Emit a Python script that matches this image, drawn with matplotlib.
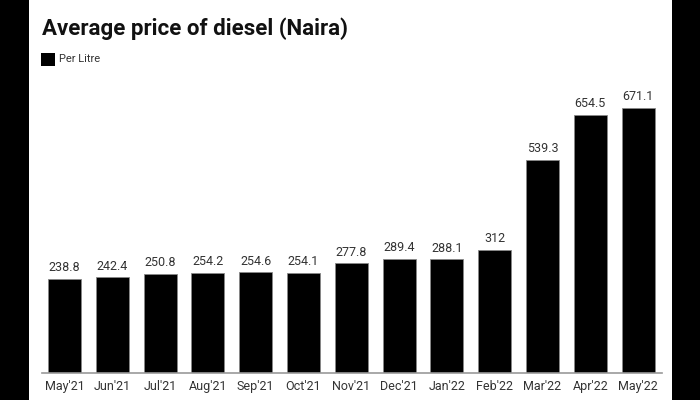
import matplotlib.pyplot as plt
from matplotlib.patches import Rectangle

months = ["May'21", "Jun'21", "Jul'21", "Aug'21", "Sep'21", "Oct'21", "Nov'21",
          "Dec'21", "Jan'22", "Feb'22", "Mar'22", "Apr'22", "May'22"]
price = [238.8, 242.4, 250.8, 254.2, 254.6, 254.1, 277.8,
         289.4, 288.1, 312, 539.3, 654.5, 671.1]
labels = ["238.8", "242.4", "250.8", "254.2", "254.6", "254.1", "277.8",
          "289.4", "288.1", "312", "539.3", "654.5", "671.1"]

plt.rcParams["font.family"] = ["Roboto", "DejaVu Sans"]

fig = plt.figure(figsize=(7, 4), dpi=100)
fig.patch.set_facecolor("black")
# white panel between the black side bands
fig.add_artist(Rectangle((29 / 700, 0), (672 - 29) / 700, 1,
                         transform=fig.transFigure, facecolor="white",
                         edgecolor="none", zorder=0))

ax = fig.add_axes([42 / 700, 27 / 400, (662 - 42) / 700, 273 / 400])
ax.set_facecolor("none")
x = range(len(months))
ax.bar(x, price, width=0.69, color="black", edgecolor="#888888", linewidth=0.6)
for i, (v, s) in enumerate(zip(price, labels)):
    ax.text(i, v + 12, s, ha="center", va="bottom", fontsize=9, color="#333333")

ax.set_xlim(-0.47, 12.5)
ax.set_ylim(0, 691.4)
ax.set_xticks(list(x))
ax.set_xticklabels(months, fontsize=9, color="#333333")
ax.tick_params(axis="x", length=0, pad=5)
ax.set_yticks([])
for side in ["top", "right", "left"]:
    ax.spines[side].set_visible(False)
ax.spines["bottom"].set_color("#999999")
ax.spines["bottom"].set_linewidth(1.2)

fig.text(42 / 700, 1 - 29 / 400, "Average price of diesel (Naira)",
         fontsize=16, fontweight="bold", color="#111111", va="center", ha="left")
fig.add_artist(Rectangle((41 / 700, 1 - 66 / 400), 14 / 700, 13 / 400,
                         transform=fig.transFigure, facecolor="black",
                         edgecolor="none"))
fig.text(59 / 700, 1 - 59.5 / 400, "Per Litre", fontsize=8, color="#333333",
         va="center", ha="left")

fig.savefig("out.png", dpi=100, facecolor=fig.get_facecolor())
